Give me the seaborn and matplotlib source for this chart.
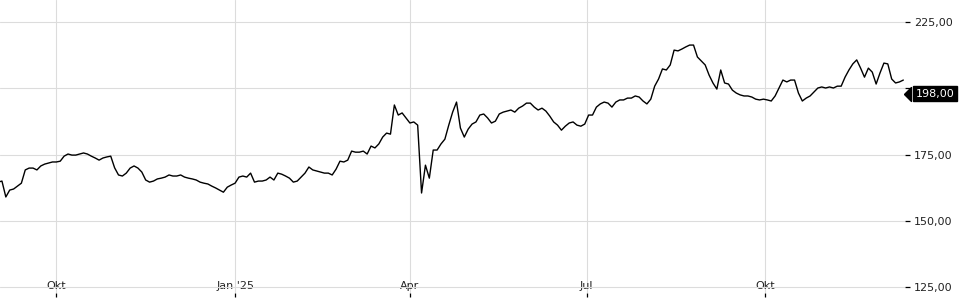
import matplotlib
matplotlib.use("Agg")
import matplotlib.pyplot as plt
import matplotlib.transforms as mtransforms
import pandas as pd
import seaborn as sns

# ---- data ----
start_date = "2024-09-01"
sample_step = "2D"
prices = [
    164.6, 165.0, 159.0, 161.6, 162.0, 163.1, 164.2, 169.2, 169.9, 169.9, 169.2, 170.7, 171.4, 171.8, 172.2, 172.2,
    172.5, 174.4, 175.2, 174.8, 174.8, 175.2, 175.6, 175.2, 174.4, 173.7, 172.9, 173.7, 174.1, 174.4, 170.0, 167.3,
    166.9, 168.0, 169.9, 170.7, 169.9, 168.4, 165.4, 164.6, 165.0, 165.8, 166.1, 166.5, 167.3, 166.9, 166.9, 167.3,
    166.5, 166.1, 165.8, 165.4, 164.6, 164.2, 163.9, 163.1, 162.4, 161.6, 160.8, 162.7, 163.5, 164.2,
    166.5, 166.9, 166.5, 168.0, 164.6, 165.0, 165.0, 165.4, 166.5, 165.4, 168.0, 167.6, 166.9, 166.1, 164.6, 165.0,
    166.5, 168.0, 170.3, 169.2, 168.8, 168.4, 168.0, 168.0, 167.3, 169.5, 172.5, 172.2, 172.9, 176.3, 175.9, 175.9,
    176.3, 175.2, 178.2, 177.5, 179.0, 181.6, 183.1, 182.7, 193.7, 189.9, 190.7, 188.8, 186.9,
    187.3, 186.1, 160.5, 171.0, 166.1, 176.7, 176.7, 179.0, 180.8, 186.1, 191.0, 194.8, 185.0, 181.6, 184.6, 186.5,
    187.3, 189.9, 190.3, 188.8, 186.9, 187.6, 190.3, 191.0, 191.4, 191.8, 191.0, 192.5, 193.3, 194.4, 194.4, 192.9,
    191.8, 192.5, 191.4, 189.5, 187.3, 186.1, 184.2, 185.7, 186.9, 187.3, 186.1, 185.7, 186.5,
    189.9, 189.9, 192.9, 194.1, 194.8, 194.4, 192.9, 194.8, 195.6, 195.6, 196.3, 196.3, 197.1, 196.7, 195.2, 194.1,
    195.9, 200.8, 203.5, 207.3, 206.9, 208.8, 214.4, 214.1, 214.8, 215.6, 216.3, 216.3, 211.8, 210.3, 208.8, 205.0,
    202.0, 199.7, 206.9, 202.0, 201.6, 199.3, 198.2, 197.5, 197.1, 197.1, 196.7, 195.9, 195.6, 195.9,
    195.6, 195.2, 197.1, 200.1, 203.1, 202.4, 203.1, 203.1, 198.2, 195.2, 196.3, 197.1, 198.6, 200.1, 200.5, 200.1,
    200.5, 200.1, 200.8, 200.8, 204.2, 206.9, 209.2, 210.7, 207.6, 204.2, 207.6, 206.1, 201.6, 205.8, 209.5, 209.2,
    203.5, 202.0, 202.4, 203.1,
]
x_tick_dates = ["2024-10-01", "2025-01-01", "2025-04-01", "2025-07-01", "2025-10-01"]
x_tick_labels = ["Okt", "Jan '25", "Apr", "Jul", "Okt"]
y_ticks = [125, 150, 175, 200, 225]
y_tick_labels = ["125,00", "150,00", "175,00", "", "225,00"]
last_price = 198.00
x_range = ["2024-09-02", "2025-12-12"]
y_range = [122.74, 233.3]

dates = pd.date_range(start_date, periods=len(prices), freq=sample_step)
df = pd.DataFrame({"date": dates, "price": prices})

sns.set_theme(style="white")
plt.rcParams["font.family"] = ["DejaVu Sans"]

fig = plt.figure(figsize=(9.6, 3.0), dpi=100)
ax = fig.add_axes([0.0, 0.023, 0.943, 0.977])
sns.lineplot(data=df, x="date", y="price", ax=ax, color="black", linewidth=1.0)

ax.set_xlim(pd.Timestamp(x_range[0]), pd.Timestamp(x_range[1]))
ax.set_ylim(*y_range)
ax.yaxis.tick_right()
ax.set_yticks(y_ticks)
ax.set_yticklabels(y_tick_labels)
ax.set_xticks(pd.to_datetime(x_tick_dates))
ax.set_xticklabels(x_tick_labels)
ax.grid(True, color="#dcdcdc", linewidth=0.8)
ax.set_axisbelow(True)
for s in ax.spines.values():
    s.set_visible(False)
ax.tick_params(axis="y", right=True, left=False, length=3.5, width=0.9, color="black",
               pad=3, labelsize=8, labelcolor="#222222", direction="out")
ax.tick_params(axis="x", bottom=True, length=3, width=0.9, color="black",
               pad=-12, labelsize=8, labelcolor="#222222", direction="out")
ax.set_xlabel("")
ax.set_ylabel("")

# last-price tag
trans = mtransforms.blended_transform_factory(ax.transAxes, ax.transData)
ax.plot([0.9986], [last_price], marker=[(0, 0), (1, 1), (1, -1), (0, 0)], markersize=10,
        color="black", transform=trans, clip_on=False, zorder=10)
ax.text(1.0115, last_price, f"{last_price:.2f}".replace(".", ","), transform=trans,
        color="white", fontsize=8, va="center", ha="left", clip_on=False, zorder=11,
        bbox=dict(boxstyle="square,pad=0.25", facecolor="black", edgecolor="black"))

fig.savefig("out.png", dpi=100)
